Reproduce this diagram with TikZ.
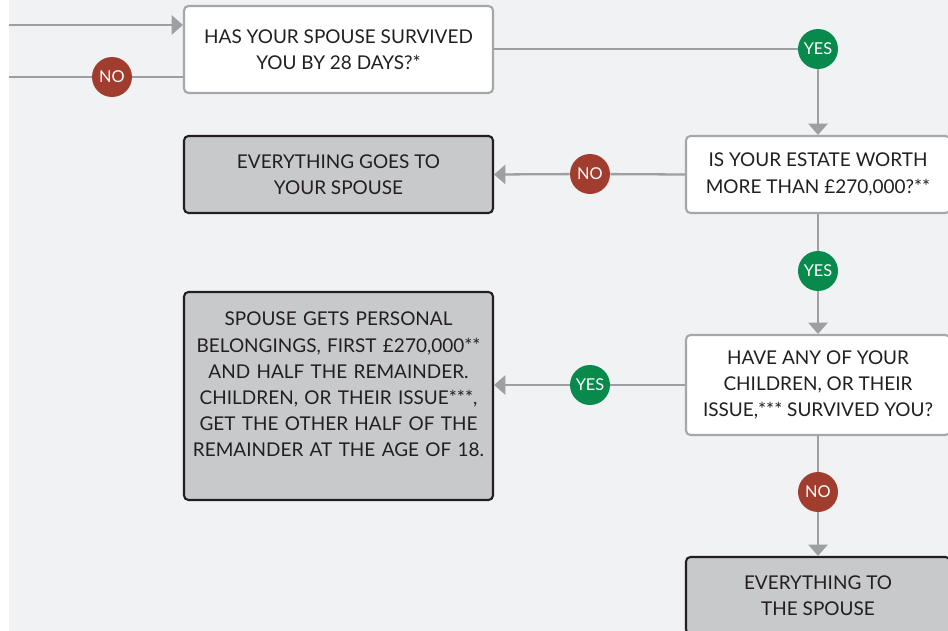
\documentclass[tikz,border=0pt]{standalone}
\usepackage{fontspec}
\setmainfont{Lato}
\usetikzlibrary{arrows.meta}
\definecolor{bggray}{HTML}{F1F2F4}
\definecolor{linegray}{HTML}{9D9FA2}
\definecolor{boxline}{HTML}{A5A7AA}
\definecolor{resfill}{HTML}{C8C9CB}
\definecolor{inkdark}{HTML}{231F20}
\definecolor{noRed}{HTML}{A03D2E}
\definecolor{yesGreen}{HTML}{078A4C}
\tikzset{
  question/.style={draw=boxline, fill=white, line width=1.2pt, rounded corners=2.5pt,
    align=center, text=inkdark, font=\fontsize{10.8}{14.9}\selectfont},
  result/.style={question, draw=inkdark, fill=resfill},
  yesno/.style={circle, minimum size=0.8cm, inner sep=0pt, text=white,
    font=\fontsize{9.3}{9.3}\selectfont},
  conn/.style={linegray, line width=1.3pt},
  arr/.style={conn, -{Triangle[width=11pt,length=6.5pt]}},
}
\begin{document}
\begin{tikzpicture}[x=0.02cm, y=-0.02cm]
	\useasboundingbox (0,0) rectangle (948,631);
	\clip (0,0) rectangle (948,631);
	\fill[bggray] (9,0) rectangle (948,631);
	% boxes
	\node[question, minimum width=6.18cm, minimum height=1.74cm] (q1) at (338.5,49.5) {HAS YOUR SPOUSE SURVIVED\\YOU BY 28 DAYS?*};
	\node[result, minimum width=6.18cm, minimum height=1.54cm] (r1) at (338.5,174.5) {EVERYTHING GOES TO\\YOUR SPOUSE};
	\node[result, text width=6cm, inner xsep=2pt, minimum width=6.18cm, minimum height=4.16cm] (r2) at (338.5,396) {SPOUSE GETS PERSONAL\\BELONGINGS, FIRST £270,000**\\AND HALF THE REMAINDER.\\CHILDREN, OR THEIR ISSUE***,\\GET THE OTHER HALF OF THE\\REMAINDER AT THE AGE OF 18.\par\vspace*{0.46cm}};
	\node[question, minimum width=5.28cm, minimum height=1.54cm] (q2) at (818,174.5) {IS YOUR ESTATE WORTH\\MORE THAN £270,000?**};
	\node[question, minimum width=5.28cm, minimum height=2cm] (q3) at (818,385) {HAVE ANY OF YOUR\\CHILDREN, OR THEIR\\ISSUE,*** SURVIVED YOU?};
	\node[result, minimum width=5.28cm, minimum height=1.54cm] (r3) at (818,595.5) {EVERYTHING TO\\THE SPOUSE};
	% answers
	\node[yesno, fill=noRed] (no1) at (112,77) {NO};
	\node[yesno, fill=yesGreen] (yes1) at (818,49) {YES};
	\node[yesno, fill=noRed] (no2) at (590,174) {NO};
	\node[yesno, fill=yesGreen] (yes2) at (818,271) {YES};
	\node[yesno, fill=yesGreen] (yes3) at (590,385) {YES};
	\node[yesno, fill=noRed] (no3) at (818,492) {NO};
	\coordinate (in) at (9,25);
	\coordinate (out) at (9,77);
	% connectors
	\draw[arr] (in) -- (in -| q1.west);
	\draw[conn] (out) -- (no1);
	\draw[conn] (no1) -- (no1 -| q1.west);
	\draw[conn] (yes1 -| q1.east) -- (yes1);
	\draw[arr] (yes1) -- (q2);
	\draw[conn] (q2.west) -- (no2);
	\draw[arr] (no2) -- (r1.east);
	\draw[conn] (q2) -- (yes2);
	\draw[arr] (yes2) -- (q3);
	\draw[conn] (q3.west) -- (yes3);
	\draw[arr] (yes3) -- (yes3 -| r2.east);
	\draw[conn] (q3) -- (no3);
	\draw[arr] (no3) -- (r3);
\end{tikzpicture}
\end{document}
